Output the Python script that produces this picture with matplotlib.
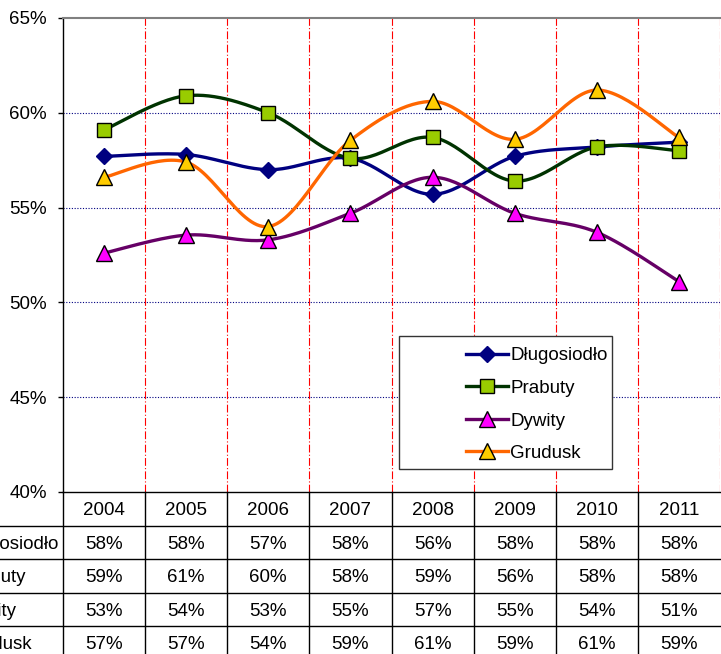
import numpy as np
import matplotlib.pyplot as plt
from matplotlib.transforms import blended_transform_factory
from matplotlib.patches import Rectangle

plt.rcParams['font.family'] = ['Liberation Sans', 'DejaVu Sans']

# dane
lata = ['2004', '2005', '2006', '2007', '2008', '2009', '2010', '2011']
dlugosiodlo = [57.7, 57.8, 57.0, 57.6, 55.7, 57.7, 58.2, 58.45]
prabuty = [59.1, 60.9, 60.0, 57.6, 58.7, 56.4, 58.2, 58.0]
dywity = [52.6, 53.55, 53.3, 54.7, 56.6, 54.7, 53.7, 51.1]
grudusk = [56.6, 57.4, 54.0, 58.55, 60.6, 58.6, 61.2, 58.7]

nazwy = ['Długosiodło', 'Prabuty', 'Dywity', 'Grudusk']
serie = [dlugosiodlo, prabuty, dywity, grudusk]
kolory_linii = ['#000080', '#003300', '#660066', '#FF6600']
kolory_znaczn = ['#000080', '#99CC00', '#FF00FF', '#FFCC00']
znaczniki = ['D', 's', '^', '^']
rozmiary = [8.5, 10, 11, 11]


def wygladz(xs, ys, n=30):
    # krzywa Beziera jak "wygładzona linia" w Excelu
    P = np.column_stack([xs, ys]).astype(float)
    out = []
    for i in range(len(P) - 1):
        p0 = P[i - 1] if i > 0 else P[i]
        p1 = P[i]
        p2 = P[i + 1]
        p3 = P[i + 2] if i + 2 < len(P) else P[i + 1]
        c1 = p1 + (p2 - p0) / 6
        c2 = p2 - (p3 - p1) / 6
        t = np.linspace(0, 1, n)[:, None]
        seg = (1 - t)**3 * p1 + 3 * (1 - t)**2 * t * c1 + 3 * (1 - t) * t**2 * c2 + t**3 * p2
        out.append(seg if i == 0 else seg[1:])
    return np.vstack(out)


W, H = 721, 654
fig = plt.figure(figsize=(W / 100, H / 100), dpi=100)
ax = fig.add_axes([63 / W, (H - 492) / H, (720 - 63) / W, (492 - 18) / H])

x = np.arange(len(lata))
uchwyty = []
for nazwa, s, kl, km, zn, ms in zip(nazwy, serie, kolory_linii, kolory_znaczn, znaczniki, rozmiary):
    c = wygladz(x, s)
    ax.plot(c[:, 0], c[:, 1], color=kl, lw=2.4, zorder=3)
    mec = 'black' if zn != 'D' else km
    ax.plot(x, s, linestyle='none', marker=zn, ms=ms, mfc=km, mec=mec, mew=1, zorder=4)
    h, = ax.plot([], [], color=kl, lw=2.4, marker=zn, ms=ms, mfc=km, mec=mec, mew=1)
    uchwyty.append(h)

ax.set_xlim(-0.5, len(lata) - 0.5)
ax.set_ylim(40, 65)
ax.set_yticks(np.arange(40, 66, 5))
ax.set_yticklabels([f'{v}%' for v in range(40, 66, 5)], fontsize=13.5)
ax.tick_params(axis='y', direction='out', length=3.6, width=1, pad=8)
ax.set_xticks([])

for v in range(45, 65, 5):
    ax.axhline(v, color='#000080', lw=0.8, linestyle=(0, (1, 1.5)), zorder=1)
for xv in np.arange(0.5, len(lata), 1):
    ax.axvline(xv, color='red', lw=0.8, linestyle=(0, (7, 2, 1, 2)), zorder=1)

ax.spines['right'].set_visible(False)
ax.spines['top'].set_color('#808080')
ax.spines['top'].set_linewidth(1.5)
ax.spines['left'].set_linewidth(1)
ax.spines['bottom'].set_linewidth(1)

# tabela danych pod wykresem
tr = blended_transform_factory(ax.transData, ax.transAxes)
h_w = 33.5 / 474
dy = 2 / 474  # tekst lekko niżej w komórce
for i, rok in enumerate(lata):
    ax.text(i, -h_w / 2 - dy, rok, transform=tr, ha='center', va='center', fontsize=13.5, clip_on=False)
for r, (nazwa, s) in enumerate(zip(nazwy, serie)):
    yc = -(r + 1.5) * h_w - dy
    ax.text((-38 - 105) / 82.1, yc, nazwa, transform=tr, ha='left', va='center', fontsize=13.5, clip_on=False)
    for i, v in enumerate(s):
        ax.text(i, yc, f'{v:.0f}%', transform=tr, ha='center', va='center', fontsize=13.5, clip_on=False)
for k in range(1, 6):
    ax.plot([-3, len(lata) - 0.5], [-k * h_w, -k * h_w], transform=tr, color='black', lw=1, clip_on=False)
for xv in np.arange(-0.5, len(lata) - 0.5, 1):
    ax.plot([xv, xv], [0, -6 * h_w], transform=tr, color='black', lw=1, clip_on=False)

# legenda
ax.add_patch(Rectangle(((399 - 63) / 657, (492 - 469) / 474), (612 - 399) / 657, (469 - 336) / 474,
                       transform=ax.transAxes, facecolor='white', edgecolor='#333333', lw=1, zorder=5))
leg = ax.legend(uchwyty, nazwy, loc='upper left', frameon=False, fontsize=13.5,
                bbox_to_anchor=((457 - 63) / 657, (492 - 338) / 474), borderpad=0,
                handlelength=2.2, handletextpad=0.15, labelspacing=0.82)
leg.set_zorder(6)

fig.savefig('out.png', dpi=100)
